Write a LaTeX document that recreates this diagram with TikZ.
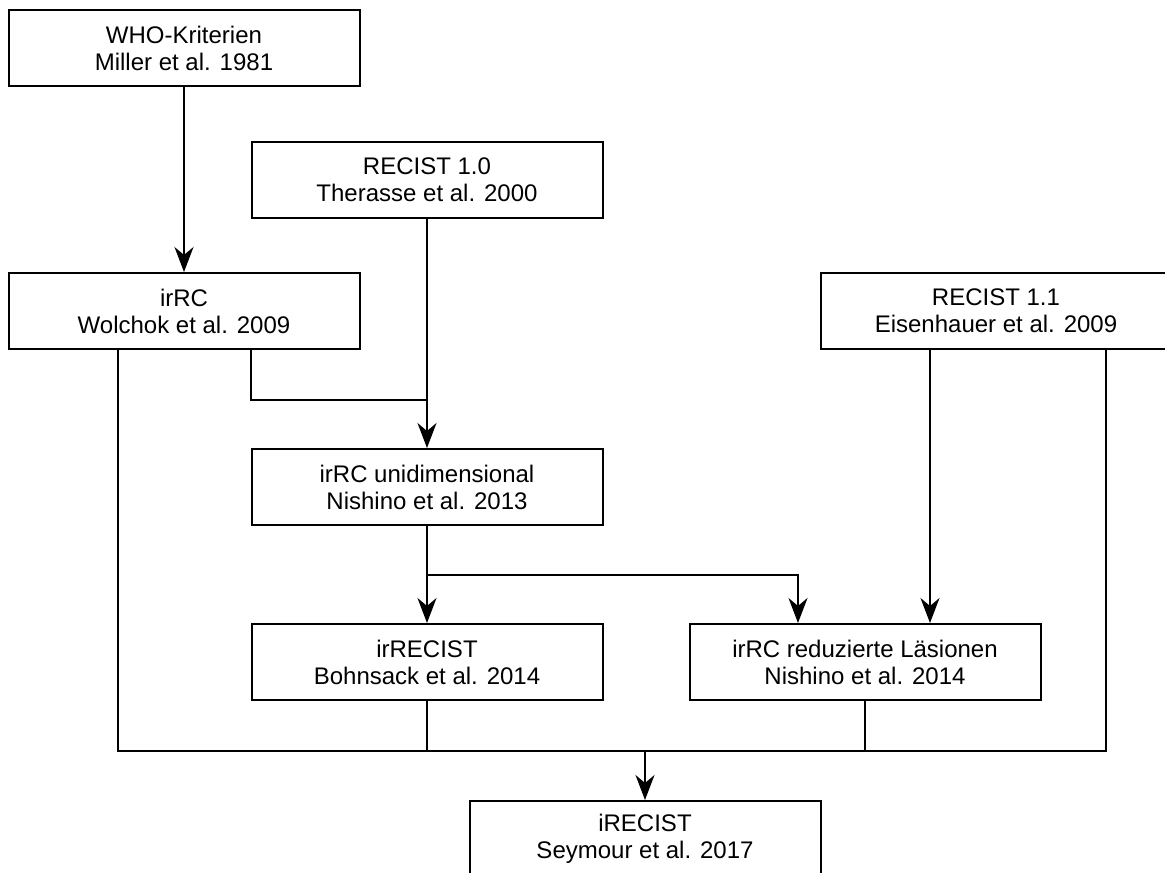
\documentclass[tikz,border=0pt]{standalone}
\usepackage{fontspec}
\setmainfont{Liberation Sans}
\usetikzlibrary{arrows.meta}
\begin{document}
\begin{tikzpicture}[x=1pt,y=-1pt,
  box/.style={draw=black,line width=2pt,fill=white,minimum width=351pt,minimum height=76pt,
    inner sep=0pt,align=center,font=\fontsize{24}{27}\selectfont},
  wire/.style={draw=black,line width=2pt},
  arr/.style={wire,-{Stealth[length=25pt,width=19pt,inset=8pt]}}]
\useasboundingbox (0,0) rectangle (1165,873);

% criteria boxes
\node[box] (who)   at (184,48)  {WHO-Kriterien\\Miller et al. 1981};
\node[box] (r10)   at (427,180) {RECIST 1.0\\Therasse et al. 2000};
\node[box] (irrc)  at (184,311) {irRC\\Wolchok et al. 2009};
\node[box] (r11)   at (996,311) {RECIST 1.1\\Eisenhauer et al. 2009};
\node[box] (uni)   at (427,487) {irRC unidimensional\\Nishino et al. 2013};
\node[box] (irrec) at (427,662) {irRECIST\\Bohnsack et al. 2014};
\node[box] (red)   at (865,662) {irRC reduzierte Läsionen\\Nishino et al. 2014};
\node[box] (irec)  at (645,839) {iRECIST\\Seymour et al. 2017};

% junction points
\coordinate (j1) at (427,400);
\coordinate (j2) at (427,575);
\coordinate (bus) at (645,751);

% connectors
\draw[arr] (who.south) -- (irrc.north);
\draw[arr] (r10.south) -- (uni.north);
\draw[wire] (irrc.south -| 251,0) |- (j1);
\draw[arr] (uni.south) -- (irrec.north);
\draw[arr] (j2) -| (red.north -| 798,0);
\draw[arr] (r11.south -| 930,0) -- (red.north -| 930,0);

% collecting line into iRECIST
\draw[wire] (irrc.south -| 118,0) |- (bus -| 1106,0) -- (r11.south -| 1106,0);
\draw[wire] (irrec.south) -- (irrec.south |- bus);
\draw[wire] (red.south) -- (red.south |- bus);
\draw[arr] (bus) -- (irec.north);
\end{tikzpicture}
\end{document}
